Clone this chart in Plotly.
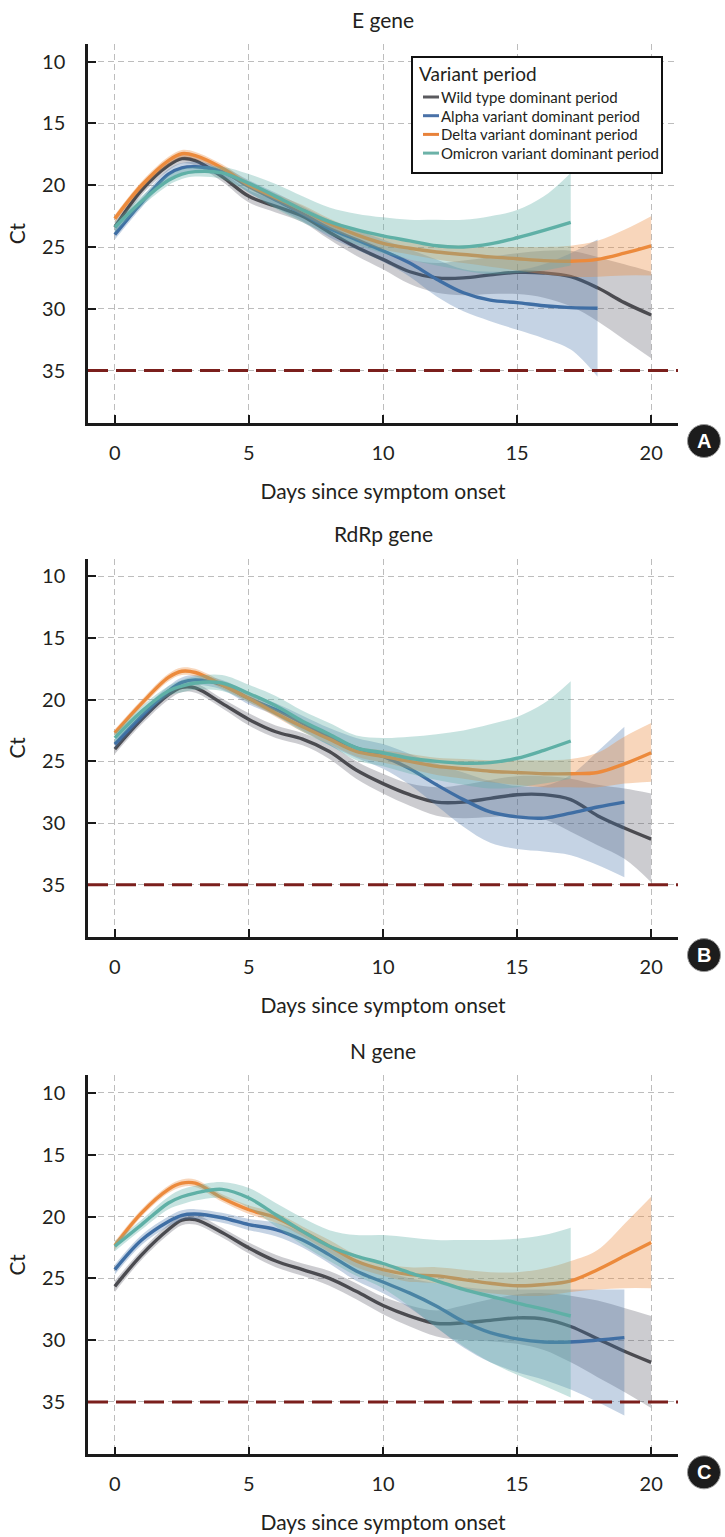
import plotly.graph_objects as go

W, H = 725, 1537

# ---------------- data ----------------
DAYS = [0, 1, 2, 2.5, 3, 4, 5, 6, 7, 8, 9, 10, 11, 12, 13, 14, 15, 16, 17, 18, 19, 20]

SERIES_NAMES = ["Wild type dominant period", "Alpha variant dominant period",
                "Delta variant dominant period", "Omicron variant dominant period"]
PANEL_TITLES = ["E gene", "RdRp gene", "N gene"]
PANEL_LETTERS = ["A", "B", "C"]
X_TICKS = [0, 5, 10, 15, 20]
Y_TICKS = [10, 15, 20, 25, 30, 35]
CT_CUTOFF = 35
X_TITLE = "Days since symptom onset"
Y_TITLE = "Ct"
LEGEND_TITLE = "Variant period"

# E gene
E_wild_mean = [23.4, 20.4, 18.4, 17.85, 18.0, 19.3, 20.9, 21.7, 22.5, 23.8, 25.0, 26.0, 27.0, 27.5, 27.5, 27.25, 27.05, 27.1, 27.4, 28.3, 29.5, 30.5]
E_wild_low = [22.9, 20.0, 18.0, 17.45, 17.6, 18.9, 20.4, 21.2, 22.0, 23.2, 24.3, 25.2, 26.0, 26.3, 26.1, 25.8, 25.5, 25.3, 25.3, 25.8, 26.4, 27.0]
E_wild_high = [23.9, 20.8, 18.8, 18.25, 18.4, 19.7, 21.4, 22.2, 23.0, 24.4, 25.7, 26.8, 28.0, 28.7, 28.9, 28.8, 28.8, 29.1, 29.8, 31.0, 32.5, 34.0]
E_alpha_mean = [24.0, 21.4, 19.1, 18.6, 18.5, 18.9, 20.1, 21.2, 22.3, 23.5, 24.4, 25.3, 26.3, 27.6, 28.7, 29.3, 29.5, 29.75, 29.9, 29.95]
E_alpha_low = [23.6, 21.0, 18.7, 18.2, 18.1, 18.5, 19.6, 20.6, 21.7, 22.8, 23.6, 24.4, 25.2, 26.0, 26.8, 27.0, 26.9, 26.4, 25.5, 24.4]
E_alpha_high = [24.4, 21.8, 19.5, 19.0, 18.9, 19.3, 20.6, 21.8, 22.9, 24.2, 25.2, 26.2, 27.4, 29.0, 30.2, 31.0, 31.7, 32.4, 33.3, 35.5]
E_delta_mean = [22.7, 20.0, 18.0, 17.45, 17.6, 18.6, 20.0, 21.0, 22.0, 23.1, 24.0, 24.7, 25.1, 25.4, 25.6, 25.8, 25.95, 26.1, 26.15, 26.0, 25.5, 24.9]
E_delta_low = [22.4, 19.7, 17.7, 17.15, 17.3, 18.3, 19.7, 20.7, 21.6, 22.7, 23.6, 24.2, 24.6, 24.8, 24.9, 25.0, 25.0, 25.0, 24.9, 24.5, 23.6, 22.5]
E_delta_high = [23.0, 20.3, 18.3, 17.75, 17.9, 18.9, 20.3, 21.3, 22.4, 23.5, 24.4, 25.2, 25.6, 26.0, 26.3, 26.6, 26.9, 27.2, 27.4, 27.4, 27.3, 27.3]
E_omicron_mean = [23.4, 21.3, 19.6, 19.1, 18.9, 19.0, 19.85, 20.9, 22.0, 22.95, 23.6, 24.1, 24.5, 24.9, 25.0, 24.75, 24.25, 23.65, 23.0]
E_omicron_low = [23.0, 20.9, 19.2, 18.7, 18.5, 18.5, 19.1, 19.9, 20.9, 21.8, 22.3, 22.6, 22.8, 22.8, 22.8, 22.5, 22.0, 20.9, 19.0]
E_omicron_high = [23.8, 21.7, 20.0, 19.5, 19.3, 19.5, 20.6, 21.9, 23.0, 24.0, 24.8, 25.5, 26.0, 26.5, 26.9, 27.2, 27.1, 26.9, 26.5]

# RdRp gene
R_wild_mean = [24.0, 21.6, 19.6, 19.0, 19.05, 20.3, 21.6, 22.6, 23.2, 24.2, 25.7, 26.8, 27.7, 28.3, 28.3, 28.0, 27.7, 27.7, 28.1, 29.4, 30.4, 31.3]
R_wild_low = [23.6, 21.2, 19.2, 18.6, 18.65, 19.9, 21.1, 22.1, 22.7, 23.6, 25.0, 26.0, 26.8, 27.1, 26.9, 26.5, 26.2, 26.2, 26.4, 26.9, 27.2, 27.6]
R_wild_high = [24.4, 22.0, 20.0, 19.4, 19.45, 20.7, 22.1, 23.1, 23.7, 24.8, 26.4, 27.6, 28.6, 29.4, 29.6, 29.5, 29.4, 29.7, 30.7, 31.8, 32.9, 34.8]
R_alpha_mean = [23.6, 21.35, 19.3, 18.6, 18.4, 18.8, 19.9, 20.8, 21.9, 23.0, 23.9, 24.6, 25.6, 26.9, 28.1, 29.1, 29.5, 29.6, 29.2, 28.7, 28.3]
R_alpha_low = [23.2, 20.95, 18.9, 18.2, 18.0, 18.4, 19.4, 20.3, 21.3, 22.3, 23.1, 23.6, 24.4, 25.2, 25.9, 26.6, 27.0, 27.0, 26.1, 24.2, 22.2]
R_alpha_high = [24.0, 21.75, 19.7, 19.0, 18.8, 19.2, 20.4, 21.3, 22.5, 23.7, 24.7, 25.6, 26.9, 28.6, 30.3, 31.6, 32.1, 32.3, 32.6, 33.4, 34.4]
R_delta_mean = [22.7, 20.3, 18.2, 17.7, 17.8, 18.8, 19.9, 21.1, 22.2, 23.2, 24.2, 24.6, 25.0, 25.4, 25.6, 25.8, 25.9, 26.0, 26.0, 25.9, 25.2, 24.3]
R_delta_low = [22.4, 20.0, 17.9, 17.4, 17.5, 18.5, 19.6, 20.8, 21.8, 22.8, 23.8, 24.1, 24.4, 24.7, 24.8, 24.9, 24.9, 24.9, 24.8, 24.3, 23.0, 21.9]
R_delta_high = [23.0, 20.6, 18.5, 18.0, 18.1, 19.1, 20.2, 21.4, 22.6, 23.6, 24.6, 25.1, 25.6, 26.1, 26.4, 26.7, 26.9, 27.1, 27.1, 27.1, 26.8, 26.65]
R_omicron_mean = [23.1, 20.95, 19.3, 18.9, 18.65, 18.65, 19.5, 20.5, 21.75, 22.8, 23.9, 24.3, 24.75, 25.0, 25.15, 25.1, 24.75, 24.1, 23.35]
R_omicron_low = [22.7, 20.55, 18.9, 18.4, 18.1, 18.0, 18.8, 19.7, 20.9, 21.9, 22.9, 23.1, 23.0, 22.8, 22.5, 22.0, 21.4, 20.3, 18.5]
R_omicron_high = [23.5, 21.35, 19.7, 19.4, 19.2, 19.3, 20.2, 21.3, 22.6, 23.7, 24.9, 25.4, 26.0, 26.5, 26.9, 27.2, 27.1, 26.8, 26.4]

# N gene
N_wild_mean = [25.65, 23.1, 21.05, 20.3, 20.25, 21.3, 22.55, 23.6, 24.3, 25.0, 26.05, 27.2, 28.05, 28.65, 28.6, 28.4, 28.2, 28.3, 28.9, 29.9, 30.9, 31.8]
N_wild_low = [25.2, 22.7, 20.65, 19.9, 19.85, 20.9, 22.1, 23.1, 23.8, 24.4, 25.4, 26.5, 27.2, 27.6, 27.2, 26.7, 26.3, 26.2, 26.4, 26.8, 27.4, 28.05]
N_wild_high = [26.1, 23.5, 21.45, 20.7, 20.65, 21.7, 23.0, 24.1, 24.8, 25.6, 26.7, 27.9, 28.9, 29.7, 30.0, 30.1, 30.3, 30.8, 31.8, 33.0, 34.2, 35.5]
N_alpha_mean = [24.3, 21.9, 20.4, 19.9, 19.8, 20.1, 20.65, 21.05, 21.9, 23.1, 24.4, 25.3, 26.2, 27.25, 28.5, 29.4, 29.9, 30.15, 30.15, 30.0, 29.8]
N_alpha_low = [23.9, 21.5, 20.0, 19.5, 19.4, 19.7, 20.2, 20.5, 21.3, 22.4, 23.6, 24.4, 25.0, 25.4, 25.7, 25.9, 25.9, 25.9, 25.9, 25.9, 25.9]
N_alpha_high = [24.7, 22.3, 20.8, 20.3, 20.2, 20.5, 21.1, 21.6, 22.5, 23.8, 25.2, 26.2, 27.4, 29.0, 30.6, 31.8, 32.6, 33.2, 34.0, 35.0, 36.1]
N_delta_mean = [22.35, 19.7, 17.8, 17.3, 17.3, 18.5, 19.45, 20.1, 21.2, 22.4, 23.6, 24.3, 24.7, 24.8, 25.1, 25.4, 25.6, 25.5, 25.2, 24.3, 23.2, 22.1]
N_delta_low = [22.0, 19.4, 17.5, 17.0, 17.0, 18.2, 19.1, 19.7, 20.8, 21.9, 23.1, 23.8, 24.1, 24.1, 24.3, 24.5, 24.5, 24.2, 23.6, 22.7, 20.6, 18.4]
N_delta_high = [22.7, 20.0, 18.1, 17.6, 17.6, 18.8, 19.8, 20.5, 21.6, 22.9, 24.1, 24.8, 25.3, 25.4, 25.9, 26.2, 26.4, 26.4, 26.1, 25.9, 25.8, 25.8]
N_omicron_mean = [22.4, 20.65, 18.9, 18.4, 18.1, 17.8, 18.5, 19.85, 21.2, 22.4, 23.2, 23.8, 24.55, 25.2, 25.9, 26.45, 27.0, 27.5, 28.05]
N_omicron_low = [22.0, 20.25, 18.4, 17.8, 17.5, 17.2, 17.7, 18.9, 20.1, 21.1, 21.5, 21.5, 21.7, 21.9, 21.9, 21.9, 21.8, 21.5, 20.9]
N_omicron_high = [22.8, 21.05, 19.4, 19.0, 18.7, 18.5, 19.3, 20.8, 22.3, 23.6, 24.8, 25.8, 27.3, 29.0, 30.5, 31.8, 32.8, 33.7, 34.65]

PANELS = [
    [(E_wild_mean, E_wild_low, E_wild_high), (E_alpha_mean, E_alpha_low, E_alpha_high),
     (E_delta_mean, E_delta_low, E_delta_high), (E_omicron_mean, E_omicron_low, E_omicron_high)],
    [(R_wild_mean, R_wild_low, R_wild_high), (R_alpha_mean, R_alpha_low, R_alpha_high),
     (R_delta_mean, R_delta_low, R_delta_high), (R_omicron_mean, R_omicron_low, R_omicron_high)],
    [(N_wild_mean, N_wild_low, N_wild_high), (N_alpha_mean, N_alpha_low, N_alpha_high),
     (N_delta_mean, N_delta_low, N_delta_high), (N_omicron_mean, N_omicron_low, N_omicron_high)],
]

# ---------------- styling ----------------
LINE_COLORS = ["#4b4b50", "#3f6ea4", "#ec8a3c", "#5fb0a6"]
BAND_COLORS = ["rgba(85,85,100,0.30)", "rgba(63,110,164,0.30)",
               "rgba(236,138,60,0.35)", "rgba(95,176,166,0.35)"]
LEGEND_LINE_COLORS = ["#5a5a5e", "#4a72a8", "#e8823a", "#6cb2a8"]
FONT = "Lato, Open Sans, sans-serif"
TXT = "#231f20"

X_PX = (88, 678)
PANEL_PX = [(44, 423), (558.6, 937.1), (1075.3, 1454.3)]  # (top, bottom) pixel of plot area
Y_RANGE = [39.24, 8.57]


def fx(p):
    return p / W


def fy(p):
    return 1 - p / H


fig = go.Figure()

for pi, series in enumerate(PANELS):
    xa = "x" if pi == 0 else f"x{pi + 1}"
    ya = "y" if pi == 0 else f"y{pi + 1}"
    for si, (mean, low, high) in enumerate(series):
        days = DAYS[:len(mean)]
        fig.add_trace(go.Scatter(x=days, y=low, mode="lines", xaxis=xa, yaxis=ya,
                                 line=dict(width=0, shape="spline", color=LINE_COLORS[si]),
                                 hoverinfo="skip", showlegend=False))
        fig.add_trace(go.Scatter(x=days, y=high, mode="lines", xaxis=xa, yaxis=ya,
                                 line=dict(width=0, shape="spline", color=LINE_COLORS[si]),
                                 fill="tonexty", fillcolor=BAND_COLORS[si],
                                 hoverinfo="skip", showlegend=False))
        fig.add_trace(go.Scatter(x=days, y=mean, mode="lines", xaxis=xa, yaxis=ya,
                                 name=SERIES_NAMES[si],
                                 line=dict(width=3.4, shape="spline", color=LINE_COLORS[si]),
                                 showlegend=False))

axis_common = dict(showline=True, linecolor="#1a1a1a", linewidth=2.5, ticks="inside",
                   ticklen=8, tickwidth=1.5, tickcolor="#1a1a1a", showgrid=True,
                   gridcolor="#bdbdbd", griddash="6px,4px", gridwidth=1, zeroline=False,
                   tickfont=dict(family=FONT, size=20, color=TXT))

layout = dict(width=W, height=H, margin=dict(l=0, r=0, t=0, b=0),
              plot_bgcolor="white", paper_bgcolor="white", showlegend=False,
              font=dict(family=FONT, size=20, color=TXT))

annotations = []
shapes = []
for pi in range(3):
    top, bottom = PANEL_PX[pi]
    xk = "xaxis" if pi == 0 else f"xaxis{pi + 1}"
    yk = "yaxis" if pi == 0 else f"yaxis{pi + 1}"
    xref = "x" if pi == 0 else f"x{pi + 1}"
    yref = "y" if pi == 0 else f"y{pi + 1}"
    layout[xk] = dict(axis_common, domain=[fx(X_PX[0]), fx(X_PX[1])], range=[-1, 21],
                      tickvals=X_TICKS, anchor=yref, ticklabelstandoff=10,
                      title=dict(text=X_TITLE, standoff=22,
                                 font=dict(family=FONT, size=21, color=TXT)))
    layout[yk] = dict(axis_common, domain=[fy(bottom), fy(top)], range=Y_RANGE,
                      tickvals=Y_TICKS, anchor=xref, ticklabelstandoff=16,
                      title=dict(text=Y_TITLE, standoff=11,
                                 font=dict(family=FONT, size=21, color=TXT)))
    # panel title
    annotations.append(dict(text=PANEL_TITLES[pi], xref="paper", yref="paper",
                            x=fx((X_PX[0] + X_PX[1]) / 2), y=fy(top - 25),
                            xanchor="center", yanchor="middle", showarrow=False,
                            font=dict(family=FONT, size=21, color=TXT)))
    # Ct cutoff line
    shapes.append(dict(type="line", xref=f"{xref} domain", yref=yref, x0=0, x1=1,
                       y0=CT_CUTOFF, y1=CT_CUTOFF,
                       line=dict(color="#7b1f1c", width=3, dash="20px,8px"), layer="above"))
    # panel letter badge
    cy = bottom + 18
    shapes.append(dict(type="circle", xref="paper", yref="paper", xsizemode="pixel",
                       ysizemode="pixel", xanchor=fx(704), yanchor=fy(cy),
                       x0=-16.5, x1=16.5, y0=-16.5, y1=16.5,
                       fillcolor="#1c1c1c", line=dict(color="#9a9a9a", width=1)))
    annotations.append(dict(text=f"<b>{PANEL_LETTERS[pi]}</b>", xref="paper", yref="paper",
                            x=fx(704), y=fy(cy), xanchor="center", yanchor="middle",
                            showarrow=False,
                            font=dict(family="Liberation Sans, Arial, sans-serif", size=20,
                                      color="white")))

# manual legend (panel A)
shapes.append(dict(type="rect", xref="paper", yref="paper", x0=fx(412), x1=fx(662),
                   y0=fy(173), y1=fy(57), fillcolor="white",
                   line=dict(color="#111111", width=2), layer="above"))
annotations.append(dict(text=LEGEND_TITLE, xref="paper", yref="paper", x=fx(417), y=fy(74),
                        xanchor="left", yanchor="middle", showarrow=False,
                        font=dict(family=FONT, size=19, color=TXT)))
for si, name in enumerate(SERIES_NAMES):
    yy = 97 + si * 18.7
    shapes.append(dict(type="line", xref="paper", yref="paper", x0=fx(423), x1=fx(439),
                       y0=fy(yy), y1=fy(yy), line=dict(color=LEGEND_LINE_COLORS[si], width=3),
                       layer="above"))
    annotations.append(dict(text=name, xref="paper", yref="paper", x=fx(439), y=fy(yy),
                            xanchor="left", yanchor="middle", showarrow=False,
                            font=dict(family=FONT, size=15, color=TXT)))

layout["annotations"] = annotations
layout["shapes"] = shapes
fig.update_layout(**layout)

fig.write_html("out.html", config={"displayModeBar": False},
               post_script="document.body.style.margin='0px';document.body.style.padding='0px';")
